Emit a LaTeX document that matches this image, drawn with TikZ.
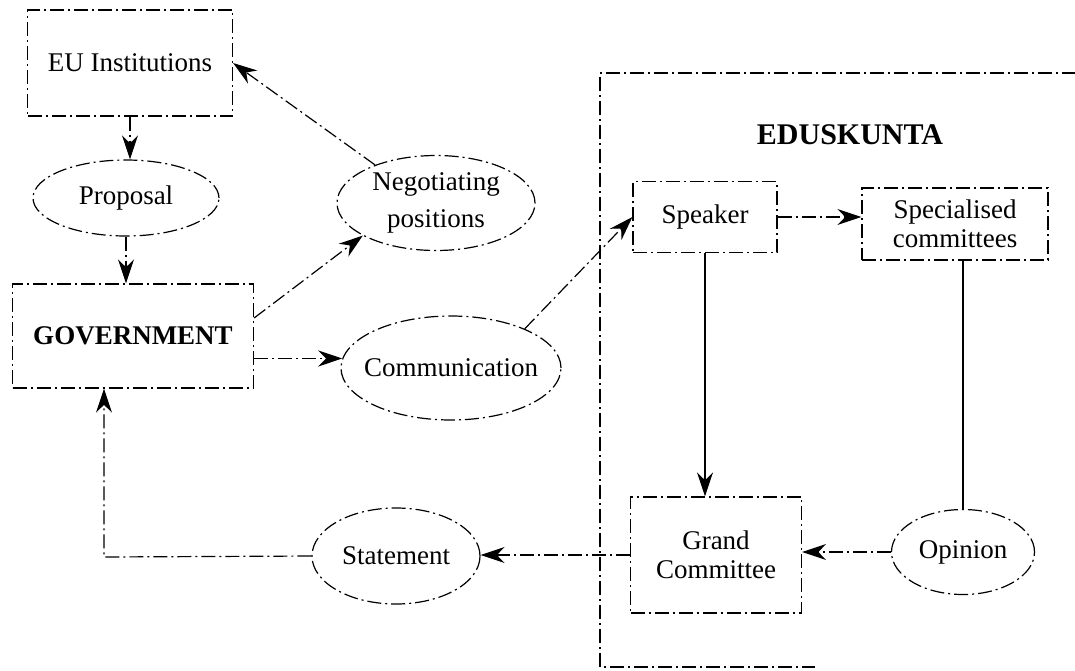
\documentclass[tikz,border=0pt]{standalone}
\usepackage{fontspec}
\setmainfont{Liberation Serif}
\usetikzlibrary{shapes.geometric,arrows.meta,calc}
\begin{document}
\begin{tikzpicture}[x=0.5pt,y=-0.5pt,
  every node/.style={font=\fontsize{13.5}{14.5}\selectfont, align=center, inner sep=0pt},
  dd/.style={line width=0.6pt, dash pattern=on 7pt off 2pt on 1pt off 2pt},
  boxn/.style={draw, dd, rectangle},
  ell/.style={draw, dd, ellipse},
  conn/.style={dd},
  solidconn/.style={line width=0.6pt},
  arr/.style={-{Stealth[length=12pt,width=8pt]}}
]
\useasboundingbox (0,0) rectangle (1075,670);
\begin{scope}
\clip (0,0) rectangle (1075,670);
\draw[dd] (1100,73) -- (600,73) -- (600,667) -- (815,667);
\end{scope}

\node[boxn, minimum width=102.5pt, minimum height=53pt] (eu) at (130,63) {EU Institutions};
\node[ell, minimum width=93pt, minimum height=38pt] (prop) at (126,198) {Proposal};
\node[boxn, minimum width=120.5pt, minimum height=52pt, font=\fontsize{13.5}{15}\selectfont\bfseries] (gov) at (133,336) {GOVERNMENT};
\node[ell, minimum width=99pt, minimum height=47.5pt, font=\fontsize{13.5}{18.5}\selectfont] (neg) at (436,203) {Negotiating\\positions};
\node[ell, minimum width=110pt, minimum height=52pt, inner xsep=-5pt] (comm) at (451,368) {Communication};
\node[font=\fontsize{15}{17}\selectfont\bfseries] (edu) at (850,135) {EDUSKUNTA};
\node[boxn, minimum width=72pt, minimum height=35.5pt] (speaker) at (705,217) {Speaker};
\node[boxn, minimum width=93pt, minimum height=36pt] (spec) at (955,224) {Specialised\\committees};
\node[boxn, minimum width=85.5pt, minimum height=58pt] (grand) at (716,555) {Grand\\Committee};
\node[ell, minimum width=71.5pt, minimum height=42.5pt] (opinion) at (963,552) {Opinion};
\node[ell, minimum width=84pt, minimum height=48pt] (statement) at (396,556) {Statement};
\coordinate (corner) at (104,557);

\draw[conn, arr] (eu.south) -- (eu.south |- prop.north);
\draw[conn, arr] (prop.south) -- (prop.south |- gov.north);
\draw[conn, arr] ($(gov.east)+(0,-18)$) -- (neg.204);
\draw[conn, arr] (neg.148) -- (eu.east);
\draw[conn, arr] (gov.east |- comm.175) -- (comm.175);
\draw[conn, arr] (comm.28) -- (speaker.west);
\draw[conn, arr] (speaker.east) -- (speaker.east -| spec.west);
\draw[solidconn, arr] (speaker.south) -- (speaker.south |- grand.north);
\draw[solidconn] (spec.south -| opinion.north) -- (opinion.north);
\draw[conn, arr] (opinion.west) -- (opinion.west -| grand.east);
\draw[conn, arr] (grand.west) -- (grand.west -| statement.east);
\draw[conn, arr] (statement.west) -- (corner) -- (corner |- gov.south);
\end{tikzpicture}
\end{document}
